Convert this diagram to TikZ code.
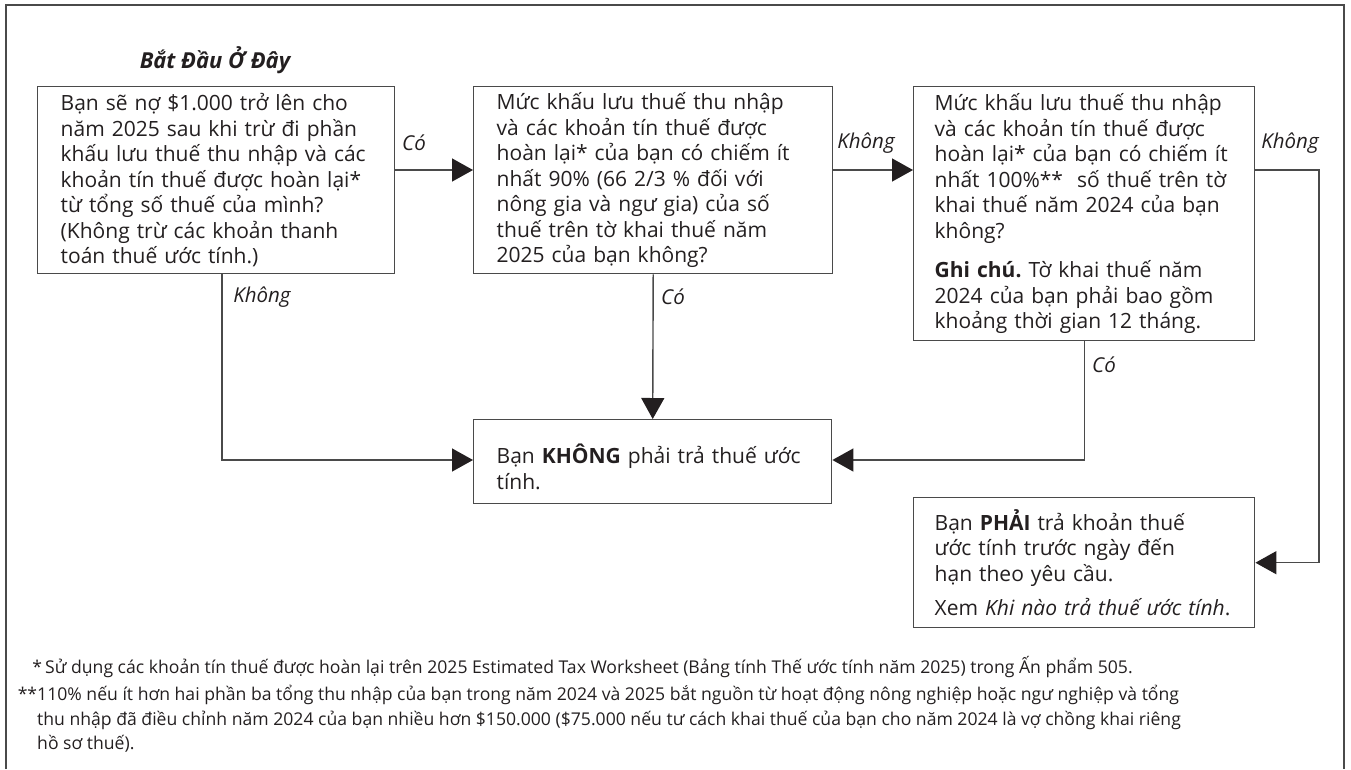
\documentclass[tikz,border=0pt]{standalone}
\usepackage{fontspec}
\setmainfont{Open Sans}
\usetikzlibrary{arrows.meta,calc}
\definecolor{ink}{HTML}{231F20}
\definecolor{edge}{HTML}{4A4A4A}
\frenchspacing
\begin{document}
\begin{tikzpicture}[x=1pt,y=-1pt,
  box/.style={draw=edge, line width=1.4pt, text=ink, anchor=north west, align=left,
    inner xsep=23pt, inner ysep=0pt, font=\fontsize{21}{25.5}\selectfont},
  lbl/.style={text=ink, inner sep=0pt, font=\fontsize{20.5}{24}\selectfont\itshape},
  arr/.style={draw=edge, line width=1.4pt, -{Triangle[length=21pt,width=23pt,color=ink]}},
  fn/.style={text=ink, inner sep=0pt, font=\fontsize{17.6}{24.5}\selectfont}]
\useasboundingbox (0,0) rectangle (1351,769);
\draw[edge, line width=1.4pt] (6,769) -- (6,5) -- (1344,5) -- (1344,769);

\node[text=ink, inner sep=0pt, font=\fontsize{22}{26}\selectfont\bfseries\itshape] (title) at (215,60) {Bắt Đầu Ở Đây};

\node[box, text width=311pt, minimum height=187pt] (b1) at (37,86) {Bạn sẽ nợ \$1.000 trở lên cho\\
năm 2025 sau khi trừ đi phần\\
khấu lưu thuế thu nhập và các\\
khoản tín thuế được hoàn lại*\\
từ tổng số thuế của mình?\\
(Không trừ các khoản thanh\\
toán thuế ước tính.)};

\node[box, text width=313pt, minimum height=187pt] (b2) at (473,86) {Mức khấu lưu thuế thu nhập\\
và các khoản tín thuế được\\
hoàn lại* của bạn có chiếm ít\\
nhất 90\% (66 2/3 \% đối với\\
nông gia và ngư gia) của số\\
thuế trên tờ khai thuế năm\\
2025 của bạn không?};

\node[box, inner xsep=21pt, text width=299pt, minimum height=254pt] (b3) at (913,86) {Mức khấu lưu thuế thu nhập\\
và các khoản tín thuế được\\
hoàn lại* của bạn có chiếm ít\\
nhất 100\%**\ \ số thuế trên tờ\\
khai thuế năm 2024 của bạn\\
không?\\[14pt]
\textbf{Ghi chú.} Tờ khai thuế năm\\
2024 của bạn phải bao gồm\\
khoảng thời gian 12 tháng.};

\node[box, text width=312pt, minimum height=84pt] (b4) at (473,419) {\rule{0pt}{30pt}Bạn \textbf{KHÔNG} phải trả thuế ước\\
tính.};

\node[box, inner xsep=21pt, text width=299pt, minimum height=130pt] (b5) at (913,497) {Bạn \textbf{PHẢI} trả khoản thuế\\
ước tính trước ngày đến\\
hạn theo yêu cầu.\\[9pt]
Xem \textit{Khi nào trả thuế ước tính}.};

\coordinate (ytop) at (0,170);
\coordinate (ymid) at (0,460);
\coordinate (xleft) at (222,0);
\coordinate (xright) at (1319,0);

\draw[arr] (b1.east |- ytop) -- (b2.west |- ytop);
\draw[arr] (b2.east |- ytop) -- (b3.west |- ytop);
\draw[arr] (b1.south -| xleft) |- (b4.west |- ymid);
\draw[arr] (b2.south) -- (b4.north);
\draw[arr] (b3.south) |- (b4.east |- ymid);
\draw[arr] (b3.east |- ytop) -| (xright |- b5.east) -- (b5.east);

\node[lbl] (l1) at (414,143) {Có};
\node[lbl] (l2) at (866,143) {Không};
\node[lbl] (l3) at (1290,143) {Không};
\node[lbl] (l4) at (262,297) {Không};
\node[lbl] (l5) at (673,297) {Có};
\node[lbl] (l6) at (1104,365) {Có};

\node[fn, anchor=west] (fn1) at (45,667) {\llap{*\hspace{3pt}}Sử dụng các khoản tín thuế được hoàn lại trên 2025 Estimated Tax Worksheet (Bảng tính Thế ước tính năm 2025) trong Ấn phẩm 505.};
\node[fn, anchor=north west, align=left] (fn2) at (37,685) {\llap{**}110\% nếu ít hơn hai phần ba tổng thu nhập của bạn trong năm 2024 và 2025 bắt nguồn từ hoạt động nông nghiệp hoặc ngư nghiệp và tổng\\
thu nhập đã điều chỉnh năm 2024 của bạn nhiều hơn \$150.000 (\$75.000 nếu tư cách khai thuế của bạn cho năm 2024 là vợ chồng khai riêng\\
hồ sơ thuế).};
\end{tikzpicture}
\end{document}
